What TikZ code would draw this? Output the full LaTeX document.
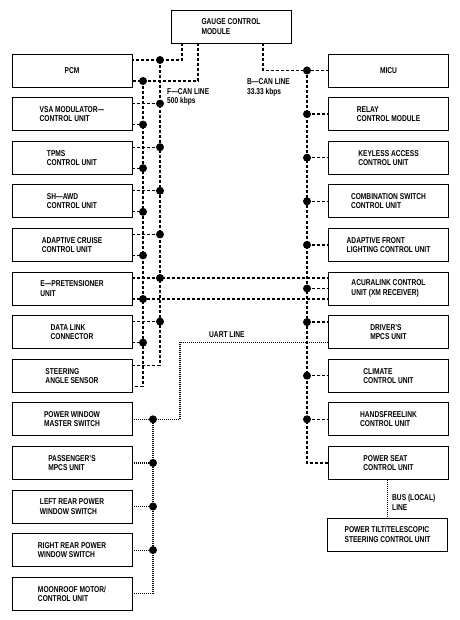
\documentclass[tikz,border=0pt]{standalone}
\usepackage{fontspec}
\setmainfont{Liberation Sans}[FakeStretch=0.78]
\usetikzlibrary{calc}
\newcommand{\tikzBusDot}[1]{
  \fill (#1) circle[radius=4pt];
}

\begin{document}
\begin{tikzpicture}[x=1pt,y=-1pt,
  unit/.style={draw,line width=0.9pt,rectangle,inner sep=0pt,minimum width=120pt,minimum height=33pt,align=left,font=\bfseries\fontsize{8.5}{9.2}\selectfont},
  buslabel/.style={anchor=west,align=left,inner sep=0pt,font=\bfseries\fontsize{8.5}{9.2}\selectfont},
  can/.style={line width=1.3pt,dash pattern=on 3pt off 2pt},
  uart/.style={line width=1.2pt,dash pattern=on 1pt off 1pt}]
  \useasboundingbox (0,0) rectangle (459,620);

  \node [unit] (gauge) at (231,26.5) {GAUGE CONTROL\\MODULE};

  % left column
  \node [unit] (pcm)   at (72,70.5)  {PCM};
  \node [unit] (vsa)   at (72,114.1) {VSA MODULATOR---\\CONTROL UNIT};
  \node [unit] (tpms)  at (72,157.7) {TPMS\\CONTROL UNIT};
  \node [unit] (shawd) at (72,201.3) {SH---AWD\\CONTROL UNIT};
  \node [unit] (acc)   at (72,244.9) {ADAPTIVE CRUISE\\CONTROL UNIT};
  \node [unit] (epret) at (72,288.5) {E---PRETENSIONER\\UNIT};
  \node [unit] (dlc)   at (72,332.1) {DATA LINK\\CONNECTOR};
  \node [unit] (steer) at (72,375.7) {STEERING\\ANGLE SENSOR};
  \node [unit] (pwm)   at (72,419.3) {POWER WINDOW\\MASTER SWITCH};
  \node [unit] (pmpcs) at (72,462.9) {PASSENGER'S\\MPCS UNIT};
  \node [unit] (lrpw)  at (72,506.5) {LEFT REAR POWER\\WINDOW SWITCH};
  \node [unit] (rrpw)  at (72,550.1) {RIGHT REAR POWER\\WINDOW SWITCH};
  \node [unit] (moon)  at (72,593.7) {MOONROOF MOTOR/\\CONTROL UNIT};

  % right column
  \node [unit] (micu)      at (388.5,70.5)  {MICU};
  \node [unit] (relay)     at (388.5,114.1) {RELAY\\CONTROL MODULE};
  \node [unit] (keyless)   at (388.5,157.7) {KEYLESS ACCESS\\CONTROL UNIT};
  \node [unit] (combi)     at (388.5,201.3) {COMBINATION SWITCH\\CONTROL UNIT};
  \node [unit] (afs)       at (388.5,244.9) {ADAPTIVE FRONT\\LIGHTING CONTROL UNIT};
  \node [unit] (acuralink) at (388.5,288.5) {ACURALINK CONTROL\\UNIT (XM RECEIVER)};
  \node [unit] (dmpcs)     at (388.5,332.1) {DRIVER'S\\MPCS UNIT};
  \node [unit] (climate)   at (388.5,375.7) {CLIMATE\\CONTROL UNIT};
  \node [unit] (hfl)       at (388.5,419.3) {HANDSFREELINK\\CONTROL UNIT};
  \node [unit] (pseat)     at (388.5,462.9) {POWER SEAT\\CONTROL UNIT};
  \node [unit] (tilt)      at (387.5,534.5) {POWER TILT/TELESCOPIC\\STEERING CONTROL UNIT};

  % bus positions
  \coordinate (fcanA) at (160,0);
  \coordinate (fcanB) at (143,0);
  \coordinate (bcan)  at (307,0);
  \coordinate (uartA) at (180,0);
  \coordinate (uartB) at (153,0);
  \coordinate (gA) at ($(gauge.south)+(-49,0)$);
  \coordinate (gB) at ($(gauge.south)+(-33,0)$);
  \coordinate (gC) at ($(gauge.south)+(32,0)$);
  \foreach \u in {pcm,vsa,tpms,shawd,acc,epret,dlc,steer}{
    \coordinate (\u-hi) at ($(\u.east)+(0,-10.5)$);
    \coordinate (\u-lo) at ($(\u.east)+(0,10.5)$);
  }
  \coordinate (dmpcs-hi) at ($(dmpcs.west)+(0,-10)$);
  \coordinate (dmpcs-lo) at ($(dmpcs.west)+(0,10)$);

  % F-CAN line
  \draw [can] (gA) |- (pcm-hi);
  \draw [can] (gB) |- (pcm-lo);
  \draw [can] (pcm-hi -| fcanA) -- (steer-hi -| fcanA) -- (steer-hi);
  \draw [can] (pcm-lo -| fcanB) -- (steer-lo -| fcanB) -- (steer-lo);
  \foreach \u in {vsa,tpms,shawd,acc,dlc}{
    \draw [can] (\u-hi) -- (\u-hi -| fcanA);
    \draw [can] (\u-lo) -- (\u-lo -| fcanB);
  }
  \draw [can] (epret-hi) -- (epret-hi -| acuralink.west);
  \draw [can] (epret-lo) -- (epret-lo -| acuralink.west);
  \foreach \u in {pcm,vsa,tpms,shawd,acc,epret,dlc}{
    \tikzBusDot{\u-hi -| fcanA}
    \tikzBusDot{\u-lo -| fcanB}
  }

  % B-CAN line
  \draw [can] (gC) |- (micu.west);
  \draw [can] (micu.west -| bcan) -- (pseat.west -| bcan) -- (pseat.west);
  \foreach \u in {relay,keyless,combi,afs,acuralink,climate,hfl}{
    \draw [can] (\u.west -| bcan) -- (\u.west);
    \tikzBusDot{\u.west -| bcan}
  }
  \draw [can] (dmpcs-hi -| bcan) -- (dmpcs-hi);
  \tikzBusDot{micu.west -| bcan}
  \tikzBusDot{dmpcs-hi -| bcan}

  % UART line
  \draw [uart] (dmpcs-lo) -| (pwm.east -| uartA) -- (pwm.east);
  \draw [uart] (pwm.east -| uartB) -- (moon.east -| uartB) -- (moon.east);
  \foreach \u in {pmpcs,lrpw,rrpw}{
    \draw [uart] (\u.east) -- (\u.east -| uartB);
    \tikzBusDot{\u.east -| uartB}
  }
  \tikzBusDot{pwm.east -| uartB}

  % local bus
  \draw [uart] (tilt.north |- pseat.south) -- (tilt.north);

  \node [buslabel] (fcanlabel)  at (167,97)    {F---CAN LINE\\500 kbps};
  \node [buslabel] (bcanlabel)  at (247,87.5)  {B---CAN LINE\\33.33 kbps};
  \node [buslabel] (uartlabel)  at (209,335)   {UART LINE};
  \node [buslabel] (locallabel) at (392,502.5) {BUS (LOCAL)\\LINE};
\end{tikzpicture}
\end{document}
